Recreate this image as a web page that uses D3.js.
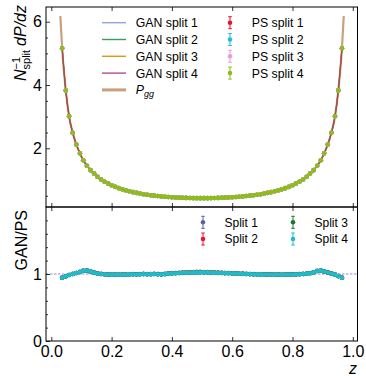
<!DOCTYPE html>
<html>
<head>
<meta charset="utf-8">
<script src="https://cdn.jsdelivr.net/npm/d3@7"></script>
<style>
  body { margin: 0; background: #fff; }
  svg { font-family: 'Liberation Sans', Arial, sans-serif; }
</style>
</head>
<body>
<svg id="chart" width="366" height="376"></svg>
<script>
// bin centres in z
const zBins = [0.036, 0.048, 0.059, 0.071, 0.083, 0.095, 0.106, 0.118, 0.130, 0.142,
  0.153, 0.165, 0.177, 0.189, 0.200, 0.212, 0.224, 0.236, 0.247, 0.259,
  0.271, 0.283, 0.294, 0.306, 0.318, 0.330, 0.341, 0.353, 0.365, 0.377,
  0.388, 0.400, 0.412, 0.424, 0.435, 0.447, 0.459, 0.471, 0.482, 0.494,
  0.506, 0.518, 0.529, 0.541, 0.553, 0.565, 0.576, 0.588, 0.600, 0.612,
  0.623, 0.635, 0.647, 0.659, 0.670, 0.682, 0.694, 0.706, 0.717, 0.729,
  0.741, 0.753, 0.764, 0.776, 0.788, 0.800, 0.811, 0.823, 0.835, 0.847,
  0.858, 0.870, 0.882, 0.894, 0.905, 0.917, 0.929, 0.941, 0.952, 0.964];

// normalised dP/dz (PS and GAN lie on top of each other)
const density = [5.16, 3.83, 3.01, 2.49, 2.12, 1.84, 1.62, 1.45, 1.31, 1.20,
  1.10, 1.016, 0.945, 0.883, 0.830, 0.782, 0.741, 0.703, 0.671, 0.641,
  0.615, 0.591, 0.570, 0.550, 0.533, 0.518, 0.504, 0.491, 0.480, 0.470,
  0.461, 0.454, 0.447, 0.441, 0.436, 0.432, 0.429, 0.427, 0.425, 0.424,
  0.424, 0.425, 0.427, 0.429, 0.432, 0.436, 0.441, 0.447, 0.454, 0.461,
  0.470, 0.480, 0.491, 0.504, 0.518, 0.533, 0.550, 0.570, 0.591, 0.615,
  0.641, 0.671, 0.703, 0.741, 0.782, 0.830, 0.883, 0.945, 1.016, 1.10,
  1.20, 1.31, 1.45, 1.62, 1.84, 2.12, 2.49, 3.01, 3.83, 5.16];

// P_gg curve end points
const pggEndZ = [0.030, 0.970];
const pggEndY = [6.18, 6.18];

// GAN / PS ratio per split
const ratioSplit1 = [0.946, 0.966, 0.984, 1.001, 1.014, 1.031, 1.047, 1.051, 1.036, 1.019,
  1.009, 1.000, 0.996, 0.991, 0.991, 0.991, 0.991, 0.992, 0.992, 0.993,
  0.997, 0.994, 0.996, 1.000, 0.997, 0.997, 1.001, 0.998, 0.995, 1.000,
  1.005, 1.011, 1.013, 1.014, 1.019, 1.021, 1.021, 1.025, 1.024, 1.027,
  1.024, 1.025, 1.021, 1.021, 1.017, 1.017, 1.013, 1.013, 1.009, 1.009,
  1.004, 1.004, 0.999, 0.999, 0.995, 0.996, 0.993, 0.994, 0.991, 0.994,
  0.990, 0.993, 0.989, 0.993, 0.990, 0.994, 0.994, 0.998, 0.999, 1.006,
  1.011, 1.026, 1.044, 1.051, 1.037, 1.023, 1.007, 0.991, 0.969, 0.946];
const ratioSplit2 = [0.944, 0.967, 0.986, 1.002, 1.016, 1.029, 1.049, 1.053, 1.034, 1.022,
  1.010, 1.002, 0.997, 0.994, 0.992, 0.994, 0.992, 0.995, 0.993, 0.996,
  0.998, 0.996, 0.999, 1.002, 0.999, 1.001, 1.003, 1.000, 0.997, 1.002,
  1.009, 1.013, 1.016, 1.019, 1.022, 1.025, 1.027, 1.029, 1.031, 1.031,
  1.030, 1.029, 1.027, 1.025, 1.022, 1.019, 1.016, 1.014, 1.012, 1.010,
  1.007, 1.005, 1.002, 1.000, 0.998, 0.997, 0.996, 0.995, 0.994, 0.995,
  0.993, 0.994, 0.993, 0.995, 0.994, 0.996, 0.997, 0.999, 1.002, 1.007,
  1.014, 1.027, 1.046, 1.052, 1.039, 1.024, 1.009, 0.992, 0.971, 0.944];
const ratioSplit3 = [0.945, 0.964, 0.985, 0.999, 1.015, 1.030, 1.048, 1.052, 1.035, 1.020,
  1.007, 0.999, 0.994, 0.990, 0.989, 0.991, 0.989, 0.992, 0.990, 0.993,
  0.995, 0.992, 0.996, 0.998, 0.995, 0.997, 0.999, 0.996, 0.993, 0.998,
  1.005, 1.009, 1.011, 1.014, 1.017, 1.019, 1.021, 1.023, 1.024, 1.025,
  1.024, 1.023, 1.021, 1.019, 1.017, 1.015, 1.013, 1.011, 1.009, 1.007,
  1.004, 1.002, 0.999, 0.997, 0.995, 0.994, 0.993, 0.992, 0.991, 0.992,
  0.990, 0.991, 0.989, 0.991, 0.990, 0.992, 0.994, 0.996, 0.999, 1.004,
  1.011, 1.024, 1.044, 1.049, 1.037, 1.021, 1.007, 0.989, 0.969, 0.945];
const ratioSplit4 = [0.945, 0.965, 0.985, 1.000, 1.015, 1.030, 1.048, 1.052, 1.035, 1.020,
  1.008, 1.000, 0.995, 0.992, 0.990, 0.992, 0.990, 0.993, 0.991, 0.994,
  0.996, 0.993, 0.997, 0.999, 0.996, 0.998, 1.000, 0.997, 0.994, 0.999,
  1.006, 1.010, 1.012, 1.015, 1.018, 1.020, 1.022, 1.024, 1.025, 1.026,
  1.025, 1.024, 1.022, 1.020, 1.018, 1.016, 1.014, 1.012, 1.010, 1.008,
  1.005, 1.003, 1.000, 0.998, 0.996, 0.995, 0.994, 0.993, 0.992, 0.993,
  0.991, 0.992, 0.990, 0.992, 0.991, 0.993, 0.995, 0.997, 1.000, 1.005,
  1.012, 1.025, 1.045, 1.050, 1.038, 1.022, 1.008, 0.990, 0.970, 0.945];

const ganLabels = ['GAN split 1', 'GAN split 2', 'GAN split 3', 'GAN split 4'];
const psLabels = ['PS split 1', 'PS split 2', 'PS split 3', 'PS split 4'];
const ratioLabels = ['Split 1', 'Split 2', 'Split 3', 'Split 4'];

const xTicks = [0.0, 0.2, 0.4, 0.6, 0.8, 1.0];
const yTopTicks = [2, 4, 6];
const yTopMinor = [0.5, 1, 1.5, 2.5, 3, 3.5, 4.5, 5, 5.5];
const yBotTicks = [0, 1];
const yBotMinor = [0.2, 0.4, 0.6, 0.8, 1.2, 1.4, 1.6, 1.8];

const ganColors = ['#93a4e0', '#3a9d5a', '#d99a0c', '#b34a9c'];
const pggColor = '#c9a07e';
const psColors = ['#e8132f', '#1fbfd0', '#e89ccf', '#8dbd1a'];
const ratioColors = ['#5563b0', '#e8132f', '#177a30', '#1fbbcb'];

function drawChart() {
  //SETUP
  const svg = d3.select('#chart');
  const left = 46, right = 357.5;
  const top1 = 7, bot1 = 207, bot2 = 341;

  //SCALES
  const xScale = d3.scaleLinear().domain([-0.0176, 1.0156]).range([left, right]);
  const yTop = d3.scaleLinear().domain([0.145, 6.465]).range([bot1, top1]);
  const yBot = d3.scaleLinear().domain([0, 2]).range([bot2, bot1]);

  const pts = zBins.map((z, i) => ({ z: z, y: density[i] }));
  const pggPts = [{ z: pggEndZ[0], y: pggEndY[0] }]
    .concat(pts)
    .concat([{ z: pggEndZ[1], y: pggEndY[1] }]);

  //CLIP
  svg.append('clipPath').attr('id', 'clipTop')
    .append('rect').attr('x', left).attr('y', top1)
    .attr('width', right - left).attr('height', bot1 - top1);
  svg.append('clipPath').attr('id', 'clipBot')
    .append('rect').attr('x', left).attr('y', bot1)
    .attr('width', right - left).attr('height', bot2 - bot1);

  //TOP PANEL
  const gTop = svg.append('g').attr('clip-path', 'url(#clipTop)');
  const line = d3.line()
    .x((d) => xScale(d.z))
    .y((d) => yTop(d.y))
    .curve(d3.curveMonotoneX);

  gTop.append('path')
    .attr('d', line(pggPts))
    .attr('fill', 'none')
    .attr('stroke', pggColor)
    .attr('stroke-width', 2.2);

  ganColors.forEach((c) => {
    gTop.append('path')
      .attr('d', line(pts))
      .attr('fill', 'none')
      .attr('stroke', c)
      .attr('stroke-width', 1.1)
      .attr('opacity', 0.85);
  });
  gTop.append('path')
    .attr('d', line(pts))
    .attr('fill', 'none')
    .attr('stroke', '#a8452a')
    .attr('stroke-width', 1.2)
    .attr('opacity', 0.75);

  psColors.forEach((c) => {
    gTop.selectAll(null)
      .data(pts)
      .enter()
      .append('circle')
      .attr('cx', (d) => xScale(d.z))
      .attr('cy', (d) => yTop(d.y))
      .attr('r', 2.3)
      .attr('fill', c);
  });

  //BOTTOM PANEL
  const gBot = svg.append('g').attr('clip-path', 'url(#clipBot)');
  gBot.append('line')
    .attr('x1', left).attr('x2', right)
    .attr('y1', yBot(1)).attr('y2', yBot(1))
    .attr('stroke', '#8c8cd8')
    .attr('stroke-width', 1.2)
    .attr('stroke-dasharray', '2.5,1.5');

  const ratios = [ratioSplit1, ratioSplit2, ratioSplit3, ratioSplit4];
  ratios.forEach((r, k) => {
    gBot.selectAll(null)
      .data(zBins.map((z, i) => ({ z: z, y: r[i] })))
      .enter()
      .append('circle')
      .attr('cx', (d) => xScale(d.z))
      .attr('cy', (d) => yBot(d.y))
      .attr('r', 2.3)
      .attr('fill', ratioColors[k]);
  });

  //AXES
  const axes = svg.append('g').attr('class', 'axes');
  function xAxisAt(y, labels, dir) {
    const ax = (dir > 0 ? d3.axisBottom(xScale) : d3.axisTop(xScale))
      .tickValues(xTicks)
      .tickSize(-4)
      .tickPadding(5)
      .tickFormat(labels ? d3.format('.1f') : '');
    const g = axes.append('g').attr('transform', `translate(0,${y})`).call(ax);
    g.select('.domain').remove();
    return g;
  }
  xAxisAt(bot1, false, 1);
  xAxisAt(top1, false, -1);
  xAxisAt(bot1, false, -1);
  const xMain = xAxisAt(bot2, true, 1);
  xMain.selectAll('text').style('font-size', '16px').attr('fill', '#000');

  function yAxis(scale, major, minor, fmt) {
    const gMaj = axes.append('g').attr('transform', `translate(${left},0)`)
      .call(d3.axisLeft(scale).tickValues(major).tickSize(-4).tickPadding(4).tickFormat(fmt));
    gMaj.select('.domain').remove();
    gMaj.selectAll('text').style('font-size', '16px').attr('fill', '#000');
    const gMin = axes.append('g').attr('transform', `translate(${left},0)`)
      .call(d3.axisLeft(scale).tickValues(minor).tickSize(-2).tickFormat(''));
    gMin.select('.domain').remove();
  }
  yAxis(yTop, yTopTicks, yTopMinor, d3.format('d'));
  yAxis(yBot, yBotTicks, yBotMinor, d3.format('d'));
  axes.selectAll('.tick line').attr('stroke', '#000').attr('stroke-width', 0.8);

  //FRAMES
  [[top1, bot1], [bot1, bot2]].forEach(([a, b]) => {
    svg.append('rect')
      .attr('x', left).attr('y', a)
      .attr('width', right - left).attr('height', b - a)
      .attr('fill', 'none')
      .attr('stroke', '#000')
      .attr('stroke-width', 1);
  });

  //LABELS
  const yl = svg.append('text')
    .attr('transform', 'translate(26,5) rotate(-90)')
    .attr('text-anchor', 'end')
    .style('font-size', '16px');
  yl.append('tspan').style('font-style', 'italic').text('N');
  yl.append('tspan').attr('dy', -6).style('font-size', '11px').text('\u22121');
  yl.append('tspan').attr('dx', -12.5).attr('dy', 10).style('font-size', '11px').text('split');
  yl.append('tspan').attr('dy', -4).attr('dx', 4).style('font-style', 'italic').text('dP/dz');

  svg.append('text')
    .attr('transform', 'translate(27,210) rotate(-90)')
    .attr('text-anchor', 'end')
    .style('font-size', '16px')
    .text('GAN/PS');

  svg.append('text')
    .attr('x', 357)
    .attr('y', 374)
    .attr('text-anchor', 'end')
    .style('font-size', '16px')
    .style('font-style', 'italic')
    .text('z');

  //LEGEND TOP
  const leg = svg.append('g').style('font-size', '12.3px');
  const rowY = (i) => 22.7 + i * 16.8;
  ganLabels.forEach((t, i) => {
    leg.append('line')
      .attr('x1', 102).attr('x2', 126)
      .attr('y1', rowY(i)).attr('y2', rowY(i))
      .attr('stroke', ganColors[i]).attr('stroke-width', 1.4);
    leg.append('text').attr('x', 135.7).attr('y', rowY(i)).attr('dy', '0.36em').text(t);
  });
  leg.append('line')
    .attr('x1', 102).attr('x2', 126)
    .attr('y1', rowY(4)).attr('y2', rowY(4))
    .attr('stroke', pggColor).attr('stroke-width', 3);
  const pt = leg.append('text').attr('x', 135.7).attr('y', rowY(4)).attr('dy', '0.36em');
  pt.append('tspan').style('font-style', 'italic').text('P');
  pt.append('tspan').attr('dy', 3).style('font-size', '9px').style('font-style', 'italic').text('gg');

  function errMarker(g, x, y, c) {
    g.append('line').attr('x1', x).attr('x2', x).attr('y1', y - 6).attr('y2', y + 6)
      .attr('stroke', c).attr('stroke-width', 1);
    [-6, 6].forEach((o) => {
      g.append('line').attr('x1', x - 1.8).attr('x2', x + 1.8)
        .attr('y1', y + o).attr('y2', y + o)
        .attr('stroke', c).attr('stroke-width', 1);
    });
    g.append('circle').attr('cx', x).attr('cy', y).attr('r', 2.3).attr('fill', c);
  }
  psLabels.forEach((t, i) => {
    errMarker(leg, 230, rowY(i), psColors[i]);
    leg.append('text').attr('x', 251.7).attr('y', rowY(i)).attr('dy', '0.36em').text(t);
  });

  //LEGEND BOTTOM
  const leg2 = svg.append('g').style('font-size', '12px');
  ratioLabels.forEach((t, i) => {
    const col = Math.floor(i / 2);
    const row = i % 2;
    const mx = col === 0 ? 203 : 293;
    const ty = 222.3 + row * 16.7;
    errMarker(leg2, mx, ty, ratioColors[i]);
    leg2.append('text').attr('x', mx + 21.5).attr('y', ty).attr('dy', '0.36em').text(t);
  });
}

drawChart();
</script>
</body>
</html>
